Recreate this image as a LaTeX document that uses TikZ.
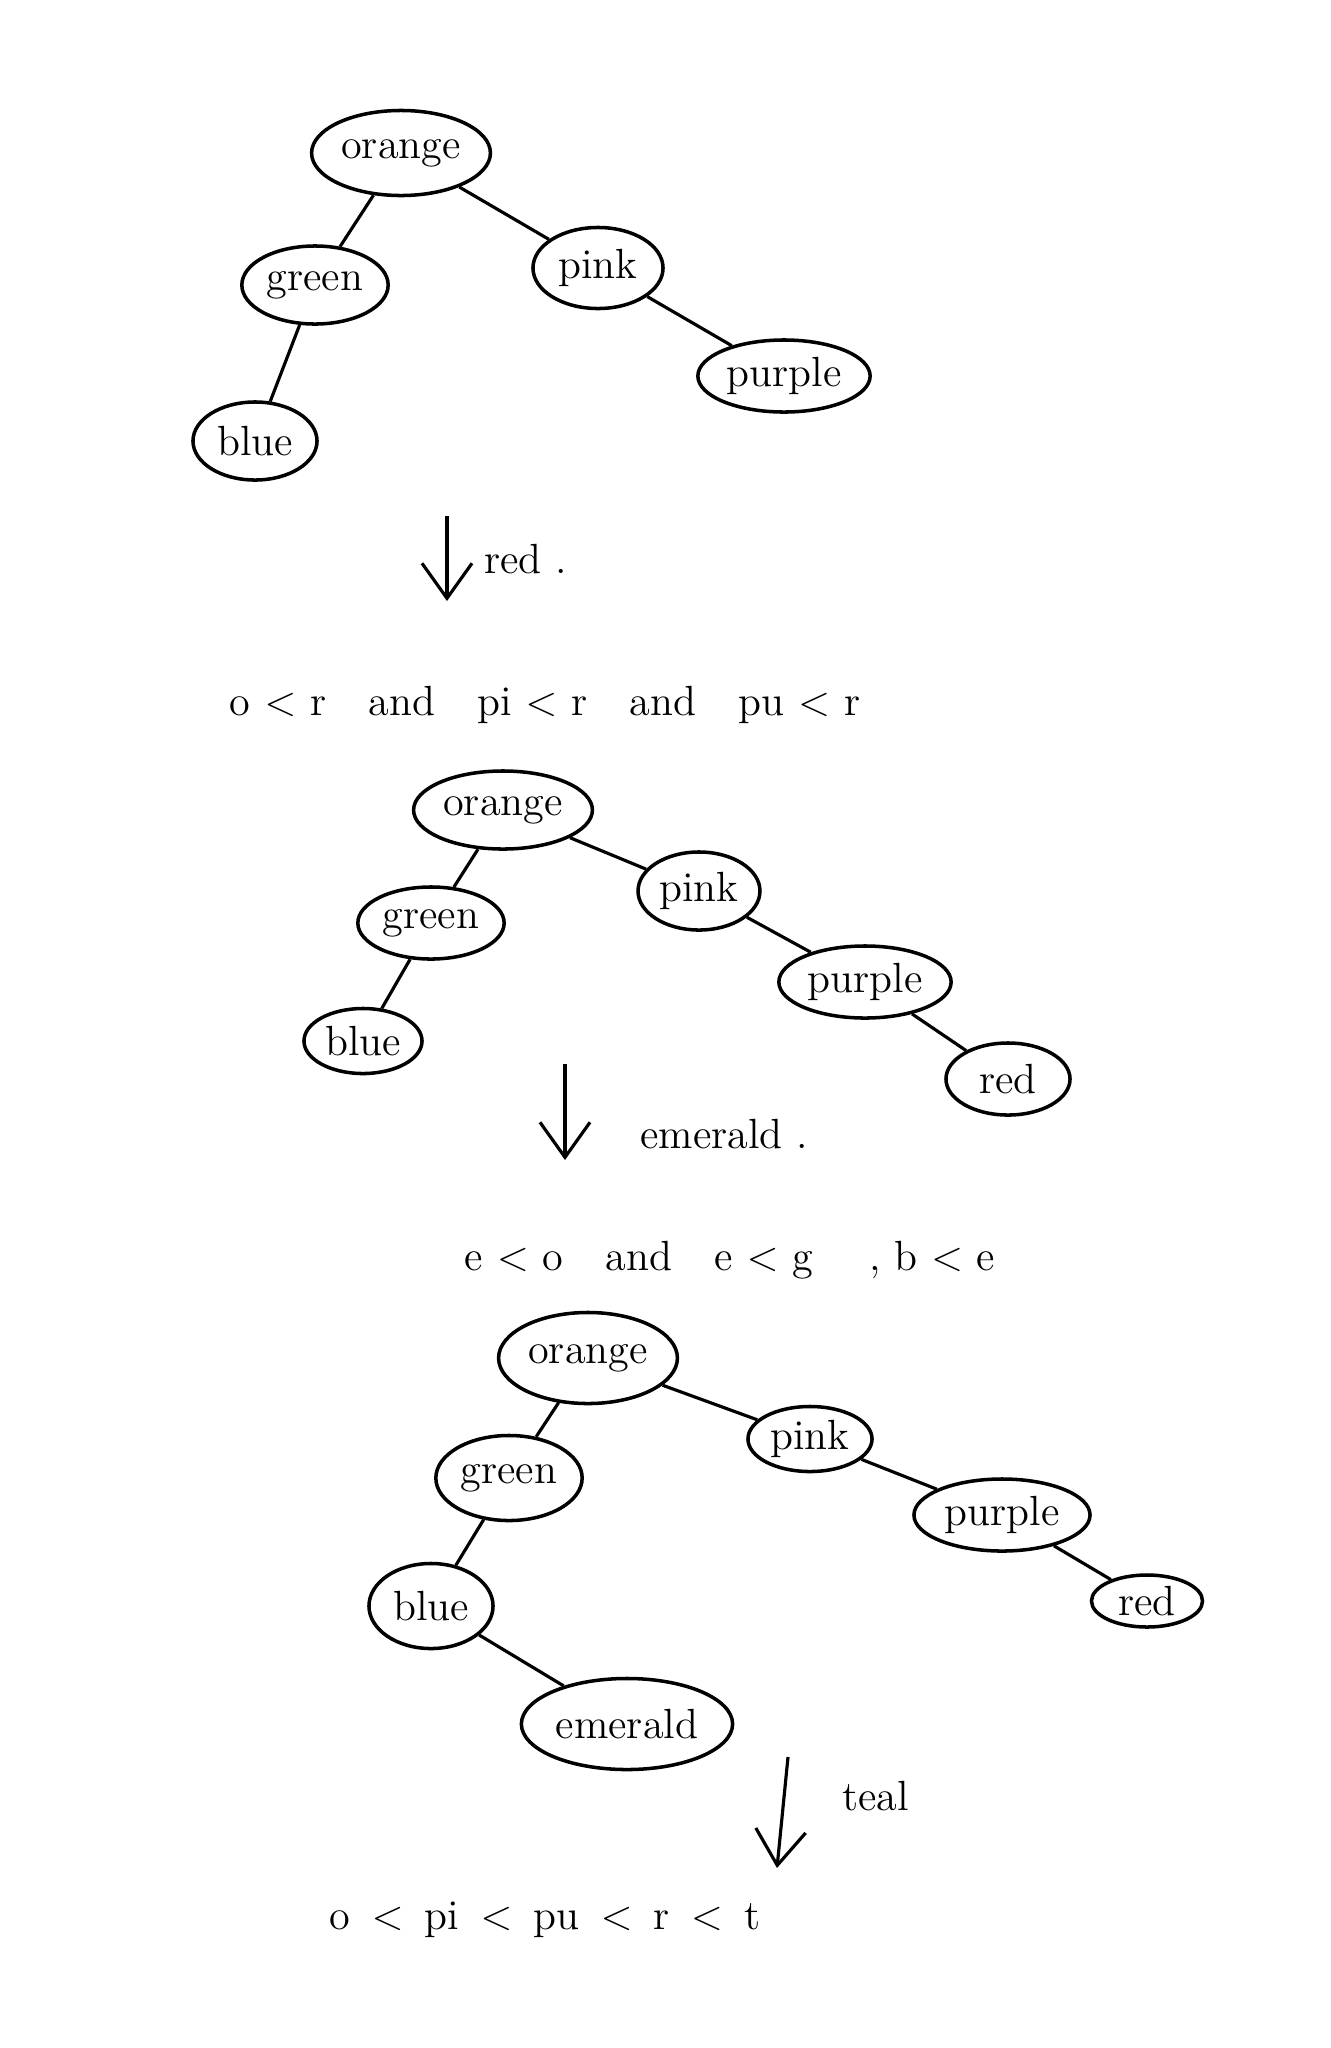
\documentclass[tikz,border=0pt]{standalone}
\usepackage{amsmath}
\usetikzlibrary{shapes.geometric,arrows.meta}

\tikzset{
  bst/.style={draw, ellipse, line width=1pt, inner sep=1pt, font=\large},
  edge/.style={line width=0.9pt},
  step arrow/.style={line width=0.9pt, -{Straight Barb[length=3.5mm,width=5mm]}},
  cond/.style={font=\large}
}

\begin{document}
\begin{tikzpicture}[x=0.01cm, y=-0.01cm]
        \useasboundingbox (0,0) rectangle (1331,2048);
        % Arbre 1
        \node[bst, minimum width=1.57cm, minimum height=0.85cm] (o1) at (401,153) {orange};
        \node[bst, minimum width=1.24cm, minimum height=0.78cm] (g1) at (315,285) {green};
        \node[bst, minimum width=1.30cm, minimum height=0.81cm] (pi1) at (598,268) {pink};
        \node[bst, minimum width=1.50cm, minimum height=0.72cm] (pu1) at (784,376) {purple};
        \node[bst, minimum width=1.24cm, minimum height=0.78cm] (b1) at (255,441) {blue};
        \draw[edge] (o1) -- (g1) -- (b1);
        \draw[edge] (o1) -- (pi1) -- (pu1);

        \coordinate (a1s) at (447,516);
        \coordinate (a1e) at (447,601);
        \draw[step arrow] (a1s) -- (a1e);
        \node[cond, anchor=west] (ins1) at (472,559) {red .};
        \node[cond] (c1) at (545,705) {o $<$ r\quad and\quad pi $<$ r\quad and\quad pu $<$ r};

        % Arbre 2
        \node[bst, minimum width=1.50cm, minimum height=0.78cm] (o2) at (503,810) {orange};
        \node[bst, minimum width=1.24cm, minimum height=0.72cm] (g2) at (431,923) {green};
        \node[bst, minimum width=1.20cm, minimum height=0.78cm] (pi2) at (699,891) {pink};
        \node[bst, minimum width=1.50cm, minimum height=0.72cm] (pu2) at (865,982) {purple};
        \node[bst, minimum width=1.18cm, minimum height=0.65cm] (b2) at (363,1041) {blue};
        \node[bst, minimum width=1.24cm, minimum height=0.72cm] (r2) at (1008,1079) {red};
        \draw[edge] (o2) -- (g2) -- (b2);
        \draw[edge] (o2) -- (pi2) -- (pu2) -- (r2);

        \coordinate (a2s) at (565,1064);
        \coordinate (a2e) at (565,1160);
        \draw[step arrow] (a2s) -- (a2e);
        \node[cond, anchor=west] (ins2) at (628,1134) {emerald .};
        \node[cond] (c2) at (730,1260) {e $<$ o\quad and\quad e $<$ g\quad\ , b $<$ e};

        % Arbre 3
        \node[bst, minimum width=1.70cm, minimum height=0.91cm] (o3) at (588,1358) {orange};
        \node[bst, minimum width=1.37cm, minimum height=0.85cm] (g3) at (509,1478) {green};
        \node[bst, minimum width=1.24cm, minimum height=0.65cm] (pi3) at (810,1439) {pink};
        \node[bst, minimum width=1.76cm, minimum height=0.72cm] (pu3) at (1002,1515) {purple};
        \node[bst, minimum width=1.11cm, minimum height=0.52cm] (r3) at (1147,1601) {red};
        \node[bst, minimum width=1.24cm, minimum height=0.85cm] (b3) at (431,1606) {blue};
        \node[bst, minimum width=1.76cm, minimum height=0.91cm] (e3) at (627,1724) {emerald};
        \draw[edge] (o3) -- (g3) -- (b3) -- (e3);
        \draw[edge] (o3) -- (pi3) -- (pu3) -- (r3);

        \coordinate (a3s) at (788,1757);
        \coordinate (a3e) at (777,1868);
        \draw[step arrow] (a3s) -- (a3e);
        \node[cond, anchor=west] (ins3) at (830,1796) {teal};
        \node[cond] (c3) at (545,1920) {o\enspace$<$\enspace pi\enspace$<$\enspace pu\enspace$<$\enspace r\enspace$<$\enspace t};
\end{tikzpicture}
\end{document}
